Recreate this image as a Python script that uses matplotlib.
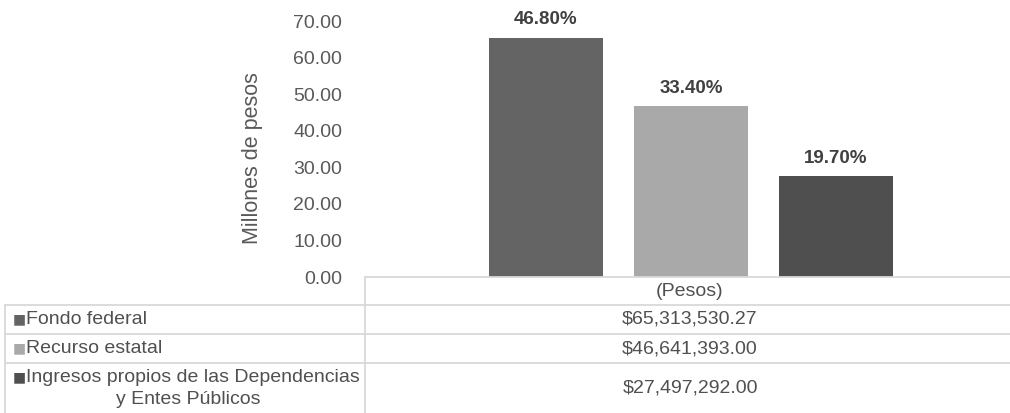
import matplotlib
matplotlib.use("Agg")
import matplotlib.pyplot as plt
from matplotlib.lines import Line2D

plt.rcParams['font.family'] = ['Liberation Sans', 'DejaVu Sans']

# ---- data ----
category = "(Pesos)"
series = ["Fondo federal", "Recurso estatal",
          "Ingresos propios de las Dependencias\ny Entes Públicos"]
values_pesos = [65313530.27, 46641393.00, 27497292.00]
values_millions = [v / 1e6 for v in values_pesos]
percent_labels = ["46.80%", "33.40%", "19.70%"]
yticks = [0, 10, 20, 30, 40, 50, 60, 70]
colors = ["#646464", "#a9a9a9", "#4f4f4f"]

W, H = 1010, 413
fig = plt.figure(figsize=(W / 100, H / 100), dpi=100)

def fx(px):
    return px / W

def fy(py):
    return 1 - py / H

ax_left, ax_right, ax_top, ax_bottom = 365, 1010, 21, 277
ax = fig.add_axes([fx(ax_left), fy(ax_bottom), fx(ax_right - ax_left),
                   (ax_bottom - ax_top) / H])
ax.set_xlim(0, 1)
ax.set_ylim(0, 70)

bar_w = 0.176
offsets = [-0.2248, 0.0, 0.2248]
center = 0.5055
for i, (v, c, lab) in enumerate(zip(values_millions, colors, percent_labels)):
    x = center + offsets[i]
    ax.bar(x, v, width=bar_w, color=c, zorder=2)
    ax.annotate(lab, (x, v), xytext=(0, 7), textcoords="offset points",
                ha="center", va="bottom", fontsize=13.5, fontweight="bold",
                color="#404040")

ax.set_yticks(yticks)
ax.set_yticklabels([f"{t:.2f}" for t in yticks])
ax.tick_params(axis="y", length=0, pad=16.5, labelsize=14, labelcolor="#595959")
ax.set_xticks([])
for s in ax.spines.values():
    s.set_visible(False)
ax.set_ylabel("Millones de pesos", fontsize=15.5, color="#595959")
ax.yaxis.set_label_coords((263 - 365) / 645, (277 - 158.5) / 256)

# ---- data table ----
grid = "#d9d9d9"
def hline(py, x0, x1):
    fig.add_artist(Line2D([fx(x0), fx(x1)], [fy(py), fy(py)], color=grid, lw=1.3))

def vline(px, y0, y1):
    fig.add_artist(Line2D([fx(px), fx(px)], [fy(y0), fy(y1)], color=grid, lw=1.3))

hline(277, 365, 1010)
hline(305, 5, 1010)
hline(334, 5, 1010)
hline(363, 5, 1010)
vline(365, 277, 413)
vline(5, 305, 413)

txt_color = "#505050"
fs = 14
val_x = 690
fig.text(fx(val_x), fy(292), category, ha="center", va="center",
         fontsize=fs, color=txt_color)

row_centers = [319.5, 348.5, 388]
value_strs = [f"${v:,.2f}" for v in values_pesos]
for i, (name, c, vs, yc) in enumerate(zip(series, colors, value_strs, row_centers)):
    fig.text(fx(val_x), fy(yc), vs, ha="center", va="center",
             fontsize=fs, color=txt_color)
    if "\n" in name:
        first, second = name.split("\n")
        fig.text(fx(13), fy(yc - 11), "■", ha="left", va="center",
                 fontsize=10, color=c, family=["DejaVu Sans"])
        fig.text(fx(26), fy(yc - 11), first, ha="left", va="center",
                 fontsize=fs, color=txt_color)
        fig.text(fx(188), fy(yc + 11), second, ha="center", va="center",
                 fontsize=fs, color=txt_color)
    else:
        fig.text(fx(13), fy(yc), "■", ha="left", va="center",
                 fontsize=10, color=c, family=["DejaVu Sans"])
        fig.text(fx(26), fy(yc), name, ha="left", va="center",
                 fontsize=fs, color=txt_color)

fig.savefig("out.png", dpi=100)
